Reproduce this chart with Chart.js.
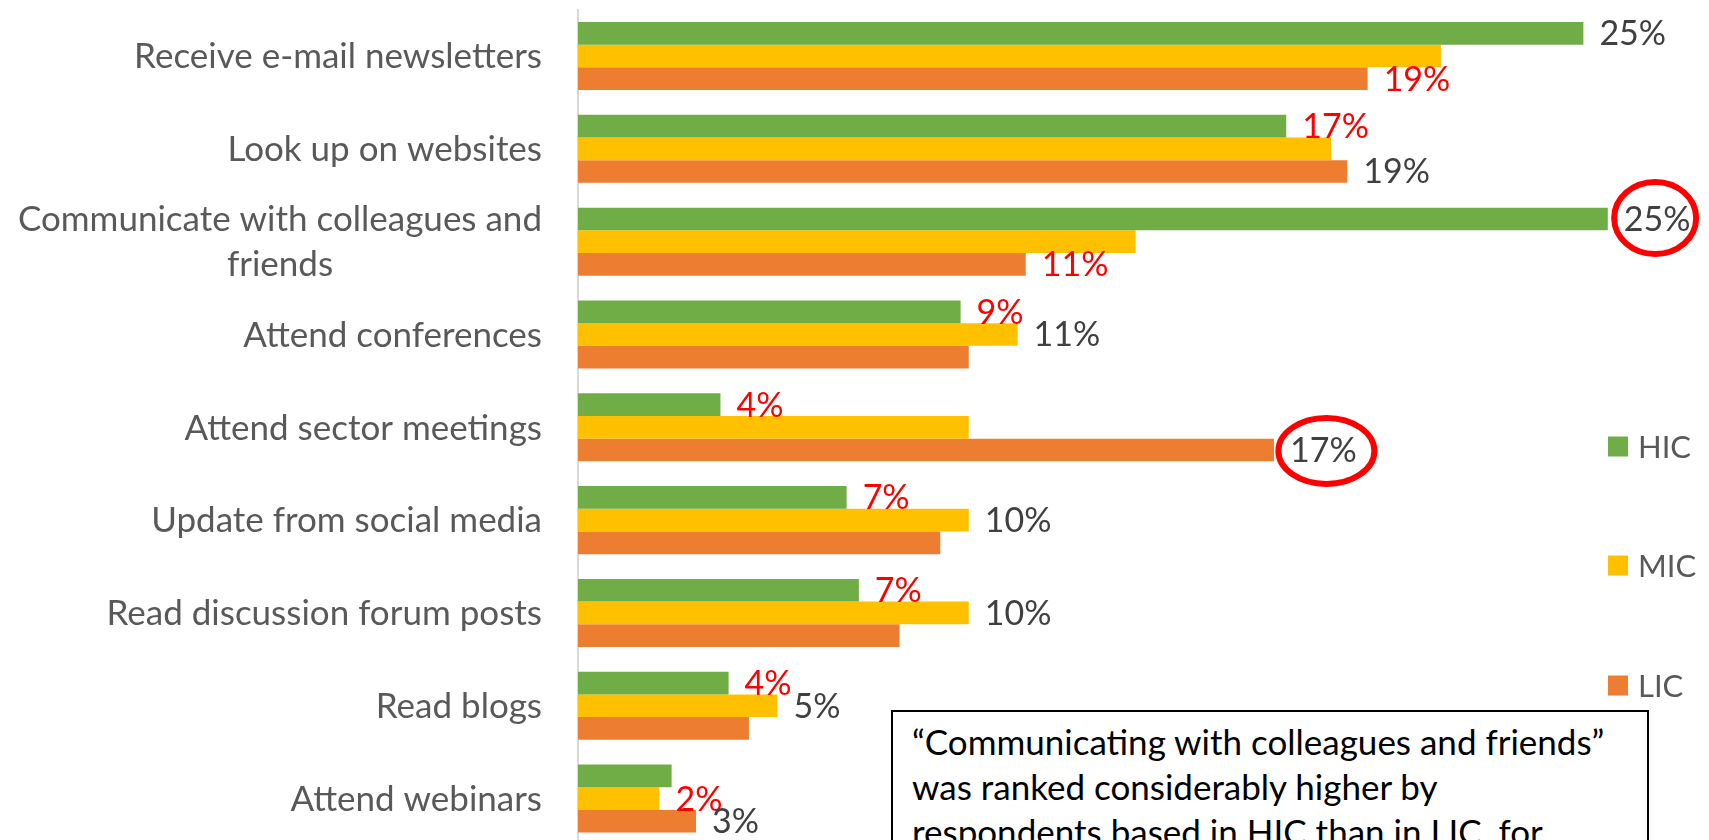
<!DOCTYPE html>
<html>
<head>
<meta charset="utf-8">
<script src="https://cdn.jsdelivr.net/npm/chart.js@4.4.1/dist/chart.umd.min.js"></script>
<style>
  body { margin: 0; background: #fff; overflow: hidden; }
  #wrap { position: relative; width: 1709px; height: 840px; overflow: hidden; }
  #chart { position: absolute; left: 0; top: 0; }
  #note {
    position: absolute; left: 891px; top: 710px; width: 758px; height: 200px;
    box-sizing: border-box; border: 2px solid #000; background: #fff;
    padding: 7px 0 0 19px; font: 35px Lato; line-height: 45px; color: #000;
    white-space: nowrap;
  }
</style>
</head>
<body>
<div id="wrap">
  <canvas id="chart" width="1709" height="845"></canvas>
  <div id="note">“Communicating with colleagues and friends”<br>was ranked considerably higher by<br>respondents based in HIC than in LIC, for</div>
</div>
<script>
const categories = [
  'Receive e-mail newsletters',
  'Look up on websites',
  ['Communicate with colleagues and', 'friends'],
  'Attend conferences',
  'Attend sector meetings',
  'Update from social media',
  'Read discussion forum posts',
  'Read blogs',
  'Attend webinars'
];

const seriesNames = ['HIC', 'MIC', 'LIC'];
const hicValues = [24.7, 17.4, 25.3, 9.4, 3.5, 6.6, 6.9, 3.7, 2.3];
const micValues = [21.2, 18.5, 13.7, 10.8, 9.6, 9.6, 9.6, 4.9, 2.0];
const licValues = [19.4, 18.9, 11.0, 9.6, 17.1, 8.9, 7.9, 4.2, 2.9];

// labels shown next to bars ('' = none)
const hicLabels = ['25%', '17%', '25%', '9%', '4%', '7%', '7%', '4%', ''];
const micLabels = ['', '', '', '11%', '', '10%', '10%', '5%', '2%'];
const licLabels = ['19%', '19%', '11%', '', '17%', '', '', '', '3%'];

// which of those labels are red
const hicRed = [false, true, false, true, true, true, true, true, false];
const micRed = [false, false, false, false, false, false, false, false, true];
const licRed = [true, false, true, false, false, false, false, false, false];

// [series, row] of the labels with a red ring round them
const circled = [[0, 2], [2, 4]];

const colors = ['#70AD47', '#FFC000', '#ED7D31'];

const seriesLabels = [hicLabels, micLabels, licLabels];
const seriesRed = [hicRed, micRed, licRed];

const barLabels = {
  id: 'barLabels',
  afterDatasetsDraw(chart) {
    const ctx = chart.ctx;
    ctx.save();
    ctx.font = '34px Lato';
    ctx.textBaseline = 'middle';
    ctx.textAlign = 'left';
    const spots = {};
    seriesLabels.forEach((labels, d) => {
      const meta = chart.getDatasetMeta(d);
      labels.forEach((txt, i) => {
        if (!txt) return;
        const bar = meta.data[i];
        const x = bar.x + 16;
        ctx.fillStyle = seriesRed[d][i] ? '#FF0000' : '#404040';
        ctx.fillText(txt, x, bar.y + 1);
        spots[d + '-' + i] = { cx: x + ctx.measureText(txt).width / 2, cy: bar.y };
      });
    });
    const rings = [
      { rx: 41, ry: 36, dx: -2, dy: -1 },
      { rx: 48, ry: 33, dx: 3, dy: 1 }
    ];
    ctx.strokeStyle = '#FF0000';
    ctx.lineWidth = 6;
    circled.forEach(([d, i], k) => {
      const s = spots[d + '-' + i];
      const r = rings[k];
      ctx.beginPath();
      ctx.ellipse(s.cx + r.dx, s.cy + r.dy, r.rx, r.ry, 0, 0, Math.PI * 2);
      ctx.stroke();
    });
    ctx.restore();
  }
};

const axisLabels = {
  id: 'axisLabels',
  afterDraw(chart) {
    const ctx = chart.ctx;
    const yScale = chart.scales.y;
    const right = 542;
    ctx.save();
    ctx.font = '35px Lato';
    ctx.fillStyle = '#595959';
    ctx.textBaseline = 'middle';
    ctx.textAlign = 'center';
    categories.forEach((label, i) => {
      const lines = Array.isArray(label) ? label : [label];
      const w = Math.max(...lines.map(l => ctx.measureText(l).width));
      const y0 = yScale.getPixelForTick(i) - (lines.length - 1) * 45 / 2 + 1;
      lines.forEach((l, j) => ctx.fillText(l, right - w / 2, y0 + j * 45));
    });
    ctx.restore();
  }
};

const sideLegend = {
  id: 'sideLegend',
  afterDraw(chart) {
    const ctx = chart.ctx;
    const ys = [446.5, 565.5, 685.5];
    ctx.save();
    ctx.font = '31px Lato';
    ctx.textBaseline = 'middle';
    ctx.textAlign = 'left';
    seriesNames.forEach((name, d) => {
      ctx.fillStyle = colors[d];
      ctx.fillRect(1608, ys[d] - 10, 20, 20);
      ctx.fillStyle = '#595959';
      ctx.fillText(name, 1638, ys[d] + 1);
    });
    ctx.restore();
  }
};

const data = {
  labels: categories,
  datasets: [
    { label: seriesNames[0], data: hicValues, backgroundColor: colors[0] },
    { label: seriesNames[1], data: micValues, backgroundColor: colors[1] },
    { label: seriesNames[2], data: licValues, backgroundColor: colors[2] }
  ]
};

const config = {
  type: 'bar',
  data: data,
  options: {
    indexAxis: 'y',
    responsive: false,
    animation: false,
    categoryPercentage: 0.733,
    barPercentage: 1,
    layout: { padding: { top: 9.6, right: 32, left: 0, bottom: 0 } },
    scales: {
      x: { min: 0, max: 27, display: false },
      y: {
        grid: { display: false },
        border: { display: true, color: '#D9D9D9', width: 2 },
        ticks: { display: false },
        afterFit(scale) { scale.width = 578; }
      }
    },
    plugins: {
      legend: { display: false },
      tooltip: { enabled: false }
    }
  },
  plugins: [barLabels, axisLabels, sideLegend]
};

new Chart(document.getElementById('chart'), config);
</script>
</body>
</html>
